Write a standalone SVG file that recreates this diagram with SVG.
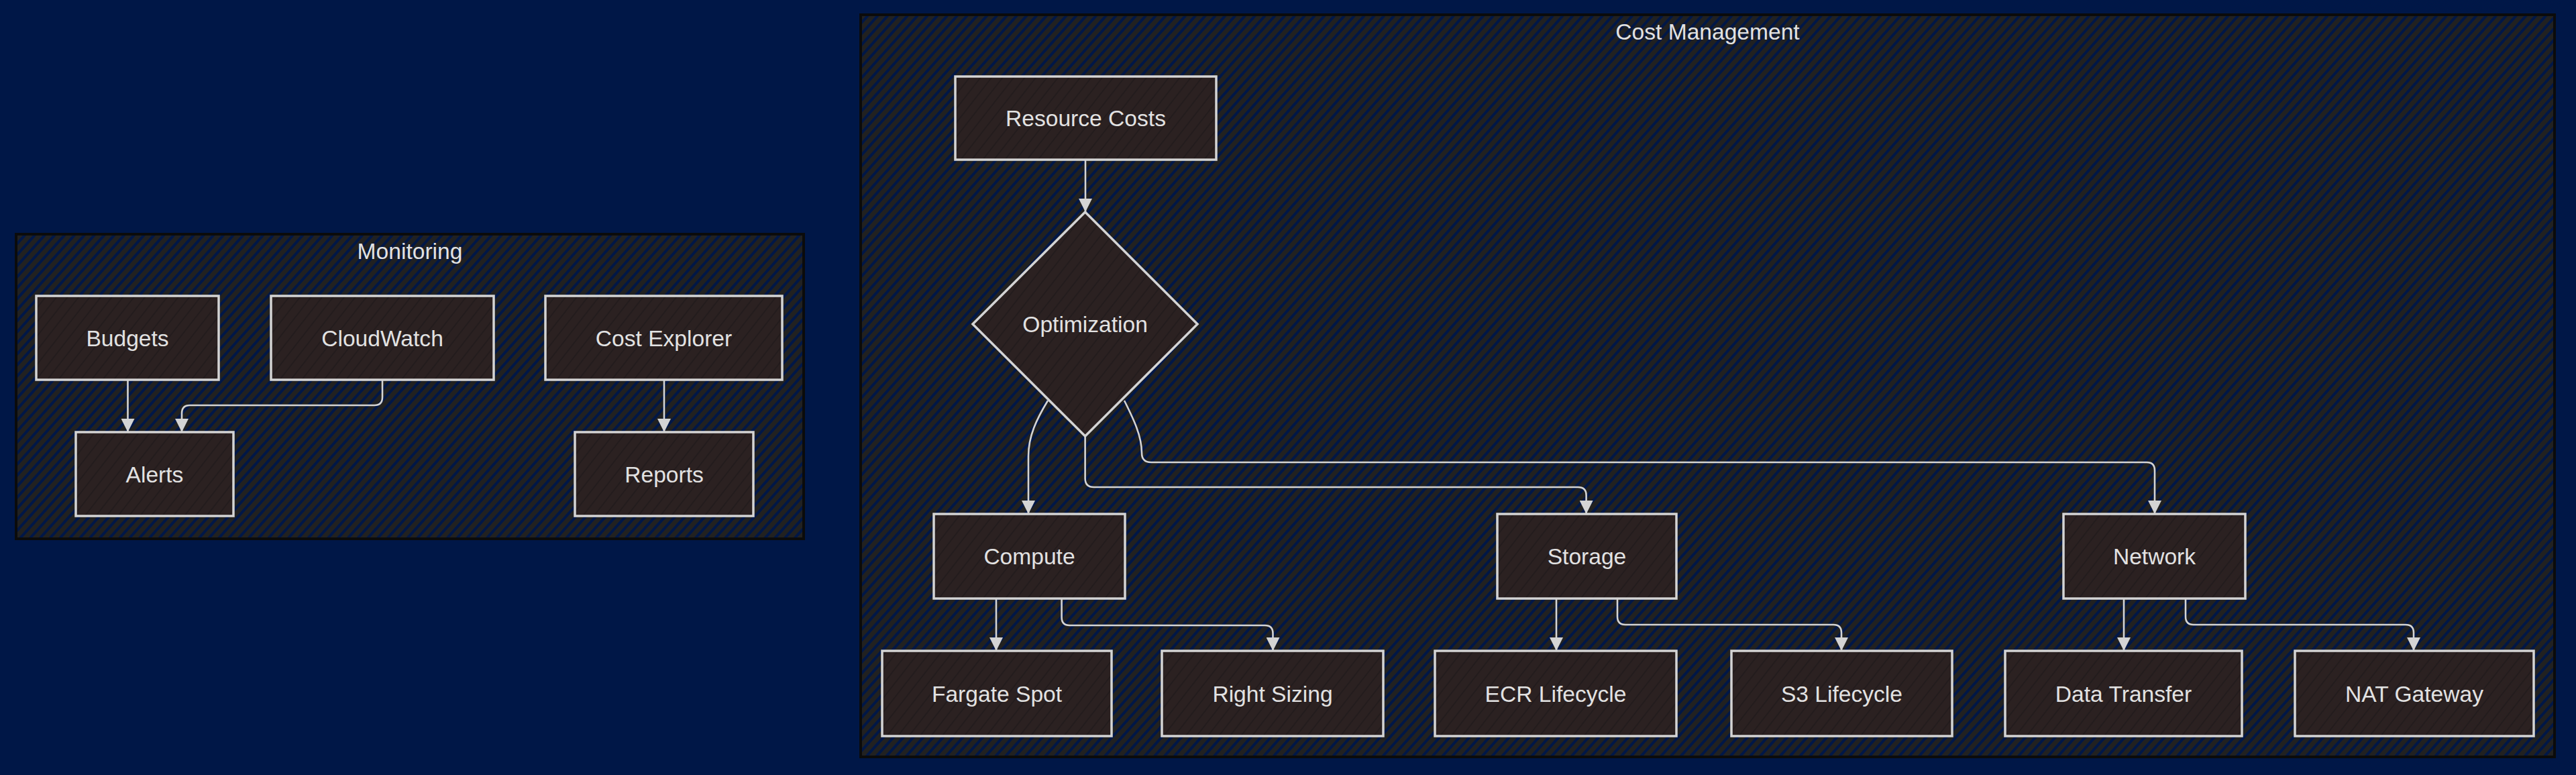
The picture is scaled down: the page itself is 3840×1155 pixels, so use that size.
<svg xmlns="http://www.w3.org/2000/svg" width="3840" height="1155" viewBox="0 0 3840 1155">
<defs>
  <pattern id="clusterHatch" patternUnits="userSpaceOnUse" width="11" height="11" patternTransform="rotate(42)">
    <rect x="0" y="0" width="11" height="11" fill="#001747"/>
    <rect x="0" y="0" width="7" height="11" fill="#212121"/>
  </pattern>
  <pattern id="nodeHatch" patternUnits="userSpaceOnUse" width="13" height="13" patternTransform="rotate(38)">
    <rect x="0" y="0" width="13" height="13" fill="#2b2121"/>
    <rect x="0" y="0" width="2" height="13" fill="#231c1d"/>
  </pattern>
  <marker id="arrow" markerUnits="userSpaceOnUse" markerWidth="20" markerHeight="20" viewBox="0 0 20 20" refX="20" refY="10" orient="auto">
    <path d="M0,0 L20,10 L0,20 z" fill="#d4d4d4"/>
  </marker>
</defs>
<style>
  .cluster { fill: url(#clusterHatch); stroke: #0b0b0b; stroke-width: 4; }
  .ctitle { font-family: "Liberation Sans", Arial, sans-serif; font-size: 33.6px; fill: #e2e2e2; text-anchor: middle; }
  .node rect, .node polygon { fill: url(#nodeHatch); stroke: #d4d4d4; stroke-width: 3.5; }
  .node text { font-family: "Liberation Sans", Arial, sans-serif; font-size: 33.6px; fill: #e2e2e2; text-anchor: middle; }
  .edge { fill: none; stroke: #d4d4d4; stroke-width: 2.6; marker-end: url(#arrow); }
</style>
<rect x="0" y="0" width="3840" height="1155" fill="#001747"/>

<g id="cluster-monitoring">
  <rect class="cluster" x="24" y="349" width="1174" height="454"/>
  <text class="ctitle" x="611" y="386">Monitoring</text>
</g>
<g id="cluster-cost-management">
  <rect class="cluster" x="1283" y="22" width="2525" height="1106"/>
  <text class="ctitle" x="2545.5" y="59">Cost Management</text>
</g>

<g id="connectors">
  <path class="edge" d="M190.5,566 L190.5,644"/>
  <path class="edge" d="M570,566 L570,592 Q570,604 558,604 L283,604 Q271,604 271,616 L271,644"/>
  <path class="edge" d="M990,566 L990,644"/>

  <path class="edge" d="M1618,238 L1618,316"/>
  <path class="edge" d="M1562,597 C1545,625 1533,650 1533,680 L1533,766"/>
  <path class="edge" d="M1617.6,650 L1617.6,713 Q1617.6,726 1630.6,726 L2352,726 Q2364.6,726 2364.6,738 L2364.6,766"/>
  <path class="edge" d="M1676,597 C1690,625 1702,650 1702,675 Q1702,689 1716,689 L3200,689 Q3212,689 3212,701 L3212,766"/>

  <path class="edge" d="M1485,892 L1485,970"/>
  <path class="edge" d="M1582.6,892 L1582.6,920 Q1582.6,932 1594.6,932 L1885.5,932 Q1897.5,932 1897.5,944 L1897.5,970"/>
  <path class="edge" d="M2320,892 L2320,970"/>
  <path class="edge" d="M2411,892 L2411,919 Q2411,931 2423,931 L2733,931 Q2745,931 2745,943 L2745,970"/>
  <path class="edge" d="M3166,892 L3166,970"/>
  <path class="edge" d="M3258,892 L3258,919 Q3258,931 3270,931 L3586,931 Q3598,931 3598,943 L3598,970"/>
</g>

<g id="node-budgets" class="node">
  <rect x="54" y="441" width="272" height="125"/>
  <text x="190" y="515.5">Budgets</text>
</g>
<g id="node-cloudwatch" class="node">
  <rect x="404" y="441" width="332" height="125"/>
  <text x="570" y="515.5">CloudWatch</text>
</g>
<g id="node-cost-explorer" class="node">
  <rect x="813" y="441" width="353" height="125"/>
  <text x="989.5" y="515.5">Cost Explorer</text>
</g>
<g id="node-alerts" class="node">
  <rect x="113" y="644" width="235" height="125"/>
  <text x="230.5" y="718.5">Alerts</text>
</g>
<g id="node-reports" class="node">
  <rect x="857" y="644" width="266" height="125"/>
  <text x="990" y="718.5">Reports</text>
</g>

<g id="node-resource-costs" class="node">
  <rect x="1424" y="114" width="389" height="124"/>
  <text x="1618.5" y="188">Resource Costs</text>
</g>
<g id="node-optimization" class="node">
  <polygon points="1617.6,316 1785,483 1617.6,650 1450,483"/>
  <text x="1617.6" y="495">Optimization</text>
</g>
<g id="node-compute" class="node">
  <rect x="1392" y="766" width="285" height="126"/>
  <text x="1534.5" y="841">Compute</text>
</g>
<g id="node-storage" class="node">
  <rect x="2232" y="766" width="267" height="126"/>
  <text x="2365.5" y="841">Storage</text>
</g>
<g id="node-network" class="node">
  <rect x="3076" y="766" width="271" height="126"/>
  <text x="3211.5" y="841">Network</text>
</g>
<g id="node-fargate-spot" class="node">
  <rect x="1315" y="970" width="342" height="127"/>
  <text x="1486" y="1045.5">Fargate Spot</text>
</g>
<g id="node-right-sizing" class="node">
  <rect x="1732" y="970" width="330" height="127"/>
  <text x="1897" y="1045.5">Right Sizing</text>
</g>
<g id="node-ecr-lifecycle" class="node">
  <rect x="2139" y="970" width="360" height="127"/>
  <text x="2319" y="1045.5">ECR Lifecycle</text>
</g>
<g id="node-s3-lifecycle" class="node">
  <rect x="2581" y="970" width="329" height="127"/>
  <text x="2745.5" y="1045.5">S3 Lifecycle</text>
</g>
<g id="node-data-transfer" class="node">
  <rect x="2989" y="970" width="353" height="127"/>
  <text x="3165.5" y="1045.5">Data Transfer</text>
</g>
<g id="node-nat-gateway" class="node">
  <rect x="3421" y="970" width="356" height="127"/>
  <text x="3599" y="1045.5">NAT Gateway</text>
</g>
</svg>
